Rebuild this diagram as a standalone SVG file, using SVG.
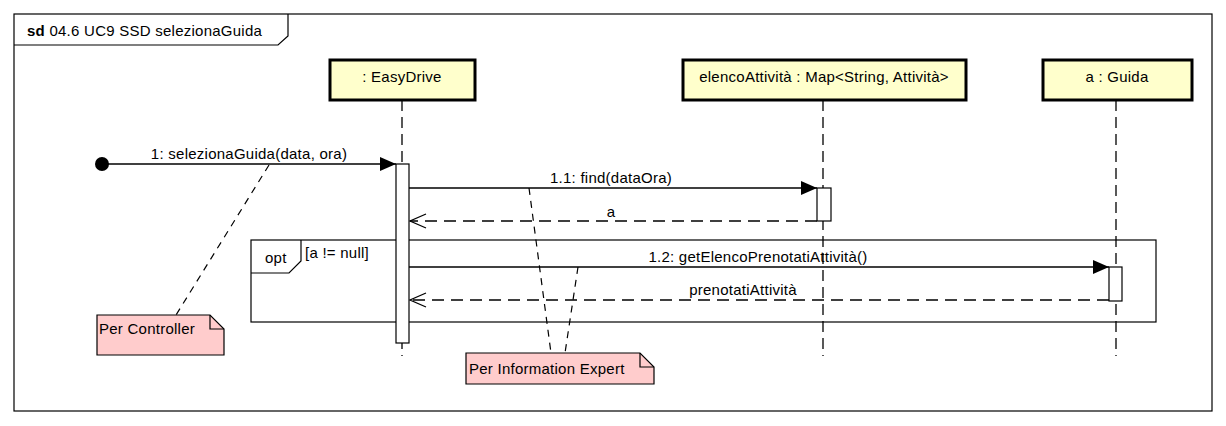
<svg xmlns="http://www.w3.org/2000/svg" width="1226" height="426" viewBox="0 0 1226 426">
<style>
text{font-family:"Liberation Sans",Arial,sans-serif;font-size:15px;fill:#000;letter-spacing:0.25px}
.life{fill:#FFFFCC;stroke:#000;stroke-width:3}
.ll{stroke:#000;stroke-width:1.3;stroke-dasharray:11,6;fill:none}
.act{fill:#fff;stroke:#000;stroke-width:1.2}
.msg{stroke:#000;stroke-width:1.3;fill:none}
.ret{stroke:#000;stroke-width:1.3;fill:none;stroke-dasharray:12,7}
.nl{stroke:#000;stroke-width:1.2;fill:none;stroke-dasharray:7,6}
.note{fill:#FFCCCC;stroke:#000;stroke-width:1.2}
.frame{fill:none;stroke:#000;stroke-width:1.2}
</style>
<defs>
<marker id="fill" markerWidth="18" markerHeight="16" refX="17" refY="8" orient="auto" markerUnits="userSpaceOnUse"><path d="M1,1 L17,8 L1,15 Z" fill="#000"/></marker>
<marker id="open" markerWidth="18" markerHeight="16" refX="17" refY="8" orient="auto" markerUnits="userSpaceOnUse"><path d="M1,1 L17,8 L1,15" fill="none" stroke="#000" stroke-width="1.3"/></marker>
</defs>
<rect width="1226" height="426" fill="#fff"/>
<g id="frame">
<rect class="frame" x="14" y="14" width="1198" height="397"/>
<path class="frame" d="M14,45 L278,45 L288,36 L288,14"/>
<text x="27" y="36"><tspan font-weight="bold">sd</tspan> 04.6 UC9 SSD selezionaGuida</text>
</g>
<g id="easydrive">
<line class="ll" x1="402" y1="100" x2="402" y2="356"/>
<rect class="life" x="330" y="60" width="145" height="40"/>
<text x="402" y="82" text-anchor="middle">: EasyDrive</text>
</g>
<g id="elencoAttivita">
<line class="ll" x1="823" y1="100" x2="823" y2="356"/>
<rect class="life" x="683" y="60" width="283" height="40"/>
<text x="824" y="82" text-anchor="middle">elencoAttività : Map&lt;String, Attività&gt;</text>
</g>
<g id="guida">
<line class="ll" x1="1116" y1="100" x2="1116" y2="356"/>
<rect class="life" x="1043" y="60" width="149" height="40"/>
<text x="1117" y="82" text-anchor="middle">a : Guida</text>
</g>
<g id="opt">
<rect class="frame" x="251" y="240" width="905" height="82"/>
<path class="frame" d="M251,273 L289,273 L301,261 L301,240"/>
<text x="265" y="263">opt</text>
<text x="305" y="258">[a != null]</text>
</g>
<g id="activations">
<rect class="act" x="396" y="164" width="13" height="179"/>
<rect class="act" x="817" y="188" width="14" height="33"/>
<rect class="act" x="1109" y="267" width="13" height="34"/>
</g>
<g id="connectors">
<circle cx="102" cy="164" r="7" fill="#000"/>
<line class="msg" x1="102" y1="164" x2="396" y2="164" marker-end="url(#fill)"/>
<text x="249" y="159" text-anchor="middle">1: selezionaGuida(data, ora)</text>
<line class="msg" x1="409" y1="188" x2="817" y2="188" marker-end="url(#fill)"/>
<text x="611" y="183" text-anchor="middle">1.1: find(dataOra)</text>
<line class="ret" x1="817" y1="221" x2="410" y2="221" marker-end="url(#open)"/>
<text x="611" y="217" text-anchor="middle">a</text>
<line class="msg" x1="409" y1="267" x2="1109" y2="267" marker-end="url(#fill)"/>
<text x="758" y="262" text-anchor="middle">1.2: getElencoPrenotatiAttività()</text>
<line class="ret" x1="1109" y1="300" x2="410" y2="300" marker-end="url(#open)"/>
<text x="743" y="295" text-anchor="middle">prenotatiAttività</text>
<line class="nl" x1="269" y1="165" x2="176" y2="315"/>
<line class="nl" x1="529" y1="188" x2="551" y2="353"/>
<line class="nl" x1="578" y1="267" x2="565" y2="353"/>
</g>
<g id="noteController">
<path class="note" d="M97,315 L210,315 L224,329 L224,355 L97,355 Z"/>
<path class="frame" d="M210,315 L210,329 L224,329"/>
<text x="99" y="334">Per Controller</text>
</g>
<g id="noteExpert">
<path class="note" d="M466,353 L640,353 L654,367 L654,384 L466,384 Z"/>
<path class="frame" d="M640,353 L640,367 L654,367"/>
<text x="469" y="374">Per Information Expert</text>
</g>
</svg>
